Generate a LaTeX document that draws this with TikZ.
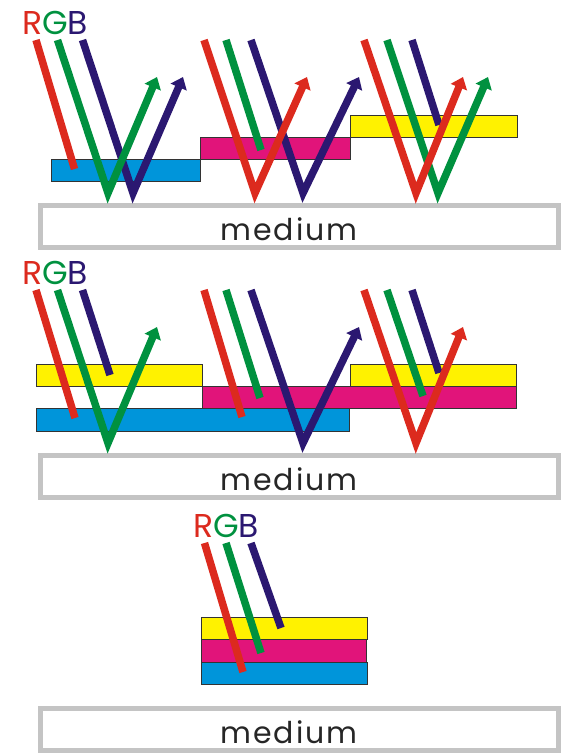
\documentclass[tikz,border=0pt]{standalone}
\usepackage{fontspec}
\setmainfont{Poppins}
\usetikzlibrary{arrows.meta}
\definecolor{rayred}{HTML}{DC2A1E}
\definecolor{raygreen}{HTML}{00913F}
\definecolor{rayblue}{HTML}{2B1871}
\definecolor{inkcyan}{HTML}{0095DA}
\definecolor{inkmagenta}{HTML}{E1147A}
\definecolor{inkyellow}{HTML}{FFF200}
\definecolor{mediumgray}{HTML}{C4C4C4}
\newcommand{\drawLayer}[5]{
   	\draw[fill=#1, draw=black!80, line width=0.8pt] (#2,#3) rectangle (#4,#5) ;
}
\newcommand{\drawRGB}[3]{
   	\node[anchor=base west, inner sep=0pt, font=\fontsize{33}{33}\selectfont] (#3) at (#1,#2) {\textcolor{rayred}{R}\textcolor{raygreen}{G}\textcolor{rayblue}{B}};
}

\begin{document}
\begin{tikzpicture}[x=1pt, y=-1pt,
    ray/.style={line width=7.5pt},
    refl/.style={-{Triangle[width=17pt,length=11pt]}},
    mediumbox/.style={draw=mediumgray, line width=5pt, fill=white, inner sep=0pt, minimum width=518pt, minimum height=42pt}]
%%%%%%%%%%%%%%%%%%
\useasboundingbox (0,0) rectangle (562,753);

%Medium
	\foreach \oy/\n in {0/a,250/b,503/c}
	{
		\node[mediumbox] (medium\n) at (299.5,226.5+\oy) {};
		\node[anchor=base, inner sep=0pt, font=\fontsize{30}{30}\selectfont\addfontfeature{LetterSpace=6}, text=black!85] (mediumtext\n) at (289,240+\oy) {medium};
	}

%Labels
\drawRGB{22}{34}{rgba}
\drawRGB{22}{284}{rgbb}
\drawRGB{193}{537}{rgbc}

% Layers, top
\drawLayer{inkcyan}{51}{159}{200}{181}
\drawLayer{inkmagenta}{200}{137}{350}{159}
\drawLayer{inkyellow}{350}{115}{517}{137}

% Rays, top
    \draw[ray, rayblue, refl] (82.5,40) -- (133,193) -- (183,77);
    \draw[ray, raygreen, refl] (57.5,40) -- (108,193) -- (157,77);
    \draw[ray, rayred] (36,40) -- (74.5,169);
    \draw[ray, rayblue, refl] (251,40) -- (303,193) -- (359,77);
    \draw[ray, raygreen] (226,40) -- (261,150);
    \draw[ray, rayred, refl] (204,40) -- (255,193) -- (307,77);
    \draw[ray, rayblue] (412,40) -- (439,125);
    \draw[ray, raygreen, refl] (387,40) -- (438,193) -- (488,77);
    \draw[ray, rayred, refl] (364,40) -- (416,193) -- (463,77);

% Layers, middle
\drawLayer{inkyellow}{36}{364}{202}{386}
\drawLayer{inkmagenta}{202}{386}{516}{408}
\drawLayer{inkcyan}{36}{408}{349}{431}
\drawLayer{inkyellow}{350}{364}{516}{386}

% Rays, middle
    \draw[ray, rayblue] (82.5,290) -- (110,375);
    \draw[ray, raygreen, refl] (57.5,290) -- (108,443) -- (157,327);
    \draw[ray, rayred] (36,290) -- (75,418);
    \draw[ray, rayblue, refl] (251,290) -- (303,443) -- (359,327);
    \draw[ray, raygreen] (226,290) -- (260,398);
    \draw[ray, rayred] (204,290) -- (242,417);
    \draw[ray, rayblue] (412,290) -- (439,373);
    \draw[ray, raygreen] (387,290) -- (423,396);
    \draw[ray, rayred, refl] (364,290) -- (416,443) -- (463,327);

% Layers, bottom
\drawLayer{inkyellow}{201}{617}{367}{639}
\drawLayer{inkmagenta}{201}{639}{366}{662}
\drawLayer{inkcyan}{201}{662}{367}{684}

% Rays, bottom
    \draw[ray, rayblue] (251,543) -- (281,628);
    \draw[ray, raygreen] (226,543) -- (261,653);
    \draw[ray, rayred] (204.5,543) -- (243,672);
\end{tikzpicture}
\end{document}
